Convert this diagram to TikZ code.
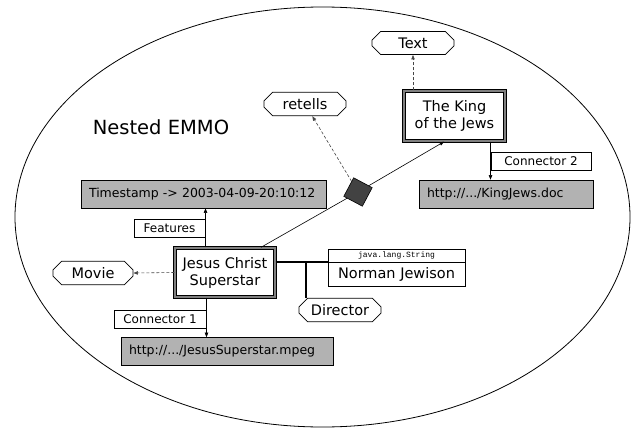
\documentclass[tikz,border=0pt]{standalone}
\usepackage{fontspec}
\setmainfont{DejaVu Sans}
\newfontfamily\typefont{Liberation Mono}
\usetikzlibrary{arrows.meta,shapes.misc,calc}
\definecolor{boxgray}{RGB}{178,178,178}
\definecolor{diagray}{RGB}{66,66,66}
\tikzset{
  >={Triangle[length=1.6mm,width=1.2mm]},
  ttl/.style={font=\fontsize{19.5}{22}\selectfont},
  emmo/.style={draw,double=gray,line width=1.3pt,double distance=1.3pt,align=center,inner sep=0pt,font=\fontsize{14.5}{17}\selectfont},
  cls/.style={chamfered rectangle,chamfered rectangle xsep=5pt,draw,line width=0.8pt,inner xsep=1pt,inner ysep=2.5pt,minimum width=82pt,minimum height=21pt,font=\fontsize{14.5}{16}\selectfont},
  media/.style={draw,fill=boxgray,line width=0.6pt,align=left,inner xsep=8pt,minimum height=28pt,font=\fontsize{12.5}{14}\selectfont},
  lbl/.style={draw,fill=white,line width=1pt,inner sep=0pt,minimum height=18pt,font=\fontsize{12}{14}\selectfont},
  dia/.style={draw,fill=diagray,line width=0.6pt,minimum size=21pt,inner sep=0pt,rotate=-28},
  attr/.style={draw,line width=0.6pt,inner sep=0pt,minimum width=137pt},
  dep/.style={->,densely dashed,gray!55!black},
  every picture/.style={line width=0.6pt},
}
\begin{document}
\begin{tikzpicture}[x=1pt,y=-1pt]
\useasboundingbox (0,0) rectangle (631,428);
\draw[line width=0.8pt] (322.5,217) ellipse [x radius=307.5,y radius=210];
\node[ttl] (title) at (161,127){Nested EMMO};
\node[cls] (txt) at (413,43){Text};
\node[emmo,minimum width=101pt,minimum height=50pt] (king) at (454.5,116){The King\\of the Jews};
\node[cls] (retells) at (305,104){retells};
\node[dia] (rel) at (358,192){};
\node[media,text width=229pt] (stamp) at (203.5,194){Timestamp -> 2003-04-09-20:10:12};
\node[media,text width=158pt] (kingurl) at (506,194){http://.../KingJews.doc};
\node[lbl,minimum width=100pt] (conn2) at (541,161.5){Connector 2};
\node[lbl,minimum width=71pt] (feat) at (169.5,228.5){Features};
\node[emmo,minimum width=100pt,minimum height=49pt] (jesus) at (225,272.5){Jesus Christ\\Superstar};
\node[cls,minimum width=80pt] (movie) at (93,273){Movie};
\node[attr,minimum height=13pt,font=\typefont\fontsize{8}{9}\selectfont] (jtype) at (396.5,255.5){java.lang.String};
\node[attr,minimum height=24pt,font=\fontsize{14.5}{16}\selectfont,anchor=north] (norman) at (jtype.south){Norman Jewison};
\node[cls] (director) at (340,310){Director};
\node[lbl,minimum width=92pt] (conn1) at (160,319){Connector 1};
\node[media,text width=196pt] (jesusurl) at (227,351.5){http://.../JesusSuperstar.mpeg};
\coordinate (jn) at (306,262);
\draw (jesus.35) -- (rel);
\draw[->] (rel) -- (king.248);
\draw[dep] (rel) -- (retells);
\draw[dep] (king.north -| txt) -- (txt.south);
\draw[dep] (jesus.west) -- (movie.east);
\draw[->] (jesus.north -| feat.east) -- (stamp.south -| feat.east);
\draw[->] (jesus.south -| conn1.east) -- (jesusurl.north -| conn1.east);
\draw[->] (king.south -| conn2.west) -- (kingurl.north -| conn2.west);
\draw[line width=1.3pt] (jesus.east |- jn) -- (jn) -- (norman.west |- jn);
\draw[line width=1.3pt] (jn) -- (director.north -| jn);
\end{tikzpicture}
\end{document}
